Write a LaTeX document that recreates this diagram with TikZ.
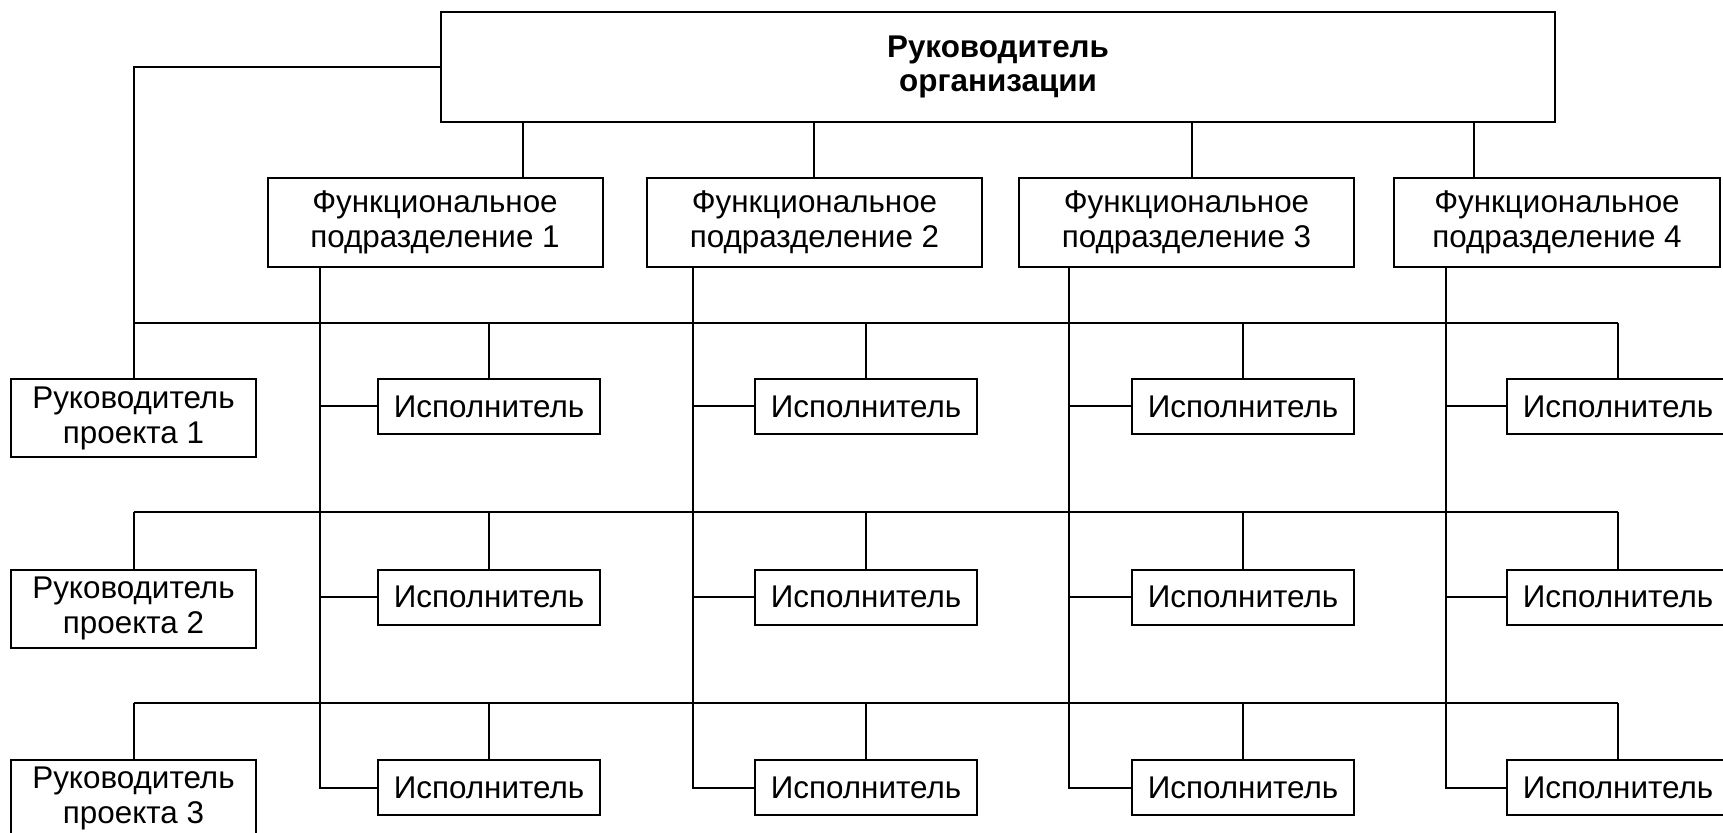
\documentclass[tikz,border=0pt]{standalone}
\usepackage{fontspec}
\setmainfont{Liberation Sans}
\begin{document}
\begin{tikzpicture}[x=0.5pt,y=-0.5pt,
  box/.style={draw, line width=1pt, inner sep=0pt, align=center, fill=white,
    font=\fontsize{15.7}{17.5}\selectfont},
  fpbox/.style={box, minimum width=167.5pt, minimum height=44.5pt},
  exbox/.style={box, minimum width=111pt, minimum height=27.5pt},
  pmbox/.style={box, minimum width=122.5pt, minimum height=39pt},
  ln/.style={line width=1pt}]
\clip (0,0) rectangle (1723,833);
\fill[white] (0,0) rectangle (1723,833);

% top
\node[box, minimum width=557pt, minimum height=55pt,
  font=\bfseries\fontsize{15.7}{17}\selectfont] (top) at (998,67) {Руководитель\\организации};

% functional units
\node[fpbox] (fp1) at (435,222.5) {Функциональное\\подразделение 1};
\node[fpbox] (fp2) at (814.5,222.5) {Функциональное\\подразделение 2};
\node[fpbox] (fp3) at (1186.5,222.5) {Функциональное\\подразделение 3};
\node[fpbox, minimum width=163pt] (fp4) at (1557,222.5) {Функциональное\\подразделение 4};

% project managers
\node[pmbox] (pm1) at (133.5,418) {Руководитель\\проекта 1};
\node[pmbox] (pm2) at (133.5,608.5) {Руководитель\\проекта 2};
\node[pmbox] (pm3) at (133.5,798.5) {Руководитель\\проекта 3};

% executors
\foreach \c/\x in {1/489,2/866,3/1243,4/1618}
  \foreach \r/\y in {1/406.5,2/597,3/787.5}
    \node[exbox] (e\c\r) at (\x,\y) {Исполнитель};

% coordinates
\coordinate (t1) at (523,0);
\coordinate (t2) at (814,0);
\coordinate (t3) at (1192,0);
\coordinate (t4) at (1474,0);
\coordinate (v1) at (320,0);
\coordinate (v2) at (693,0);
\coordinate (v3) at (1069,0);
\coordinate (v4) at (1446,0);
\coordinate (L1) at (0,323);
\coordinate (L2) at (0,512);
\coordinate (L3) at (0,703);

% top to functional units
\foreach \i in {1,2,3,4}
  \draw[ln] (top.south -| t\i) -- (fp\i.north -| t\i);

% top to project managers
\draw[ln] (top.west) -| (pm1.north);

% project lines
\foreach \r in {1,2,3}{
  \draw[ln] (L\r -| pm\r.north) -- (L\r -| e4\r.north);
  \draw[ln] (L\r -| pm\r.north) -- (pm\r.north);
  \foreach \c in {1,2,3,4}
    \draw[ln] (L\r -| e\c\r.north) -- (e\c\r.north);
}

% functional lines
\foreach \c in {1,2,3,4}{
  \draw[ln] (fp\c.south -| v\c) |- (e\c3.west);
  \draw[ln] (e\c1.west -| v\c) -- (e\c1.west);
  \draw[ln] (e\c2.west -| v\c) -- (e\c2.west);
}
\end{tikzpicture}
\end{document}
